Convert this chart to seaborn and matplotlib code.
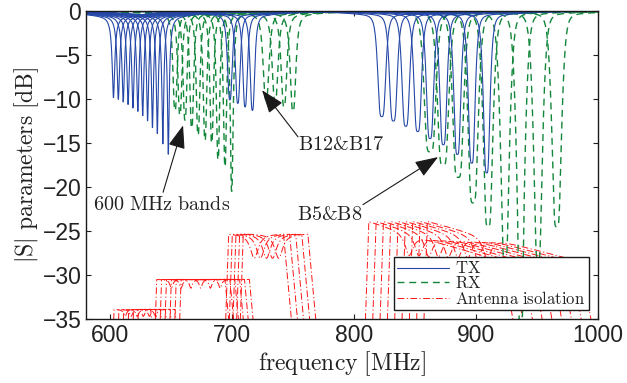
import numpy as np
import pandas as pd
import seaborn as sns
import matplotlib.pyplot as plt
from matplotlib.lines import Line2D

# TX resonances (blue, solid): centre [MHz], depth [dB], band group
tx_center = [602.5, 606.5, 610.5, 614.5, 618.5, 622.5, 626.5, 630.5, 634.5, 638.5, 643.0, 647.5,
             698.0, 704.5, 710.5, 716.5,
             822.6, 832.1, 842.3, 852.1, 862.2, 873.1, 884.6, 896.4, 908.7]
tx_depth = [-9.9, -10.1, -10.4, -10.7, -11.1, -11.5, -12.0, -12.6, -13.4, -14.1, -15.1, -16.6,
            -10.1, -10.5, -10.9, -11.3,
            -12.0, -12.5, -13.1, -13.7, -14.5, -15.2, -16.3, -17.3, -18.4]
tx_group = ["600"] * 12 + ["B12"] * 4 + ["B5"] * 9

# RX resonances (green, dashed)
rx_center = [653.0, 657.0, 661.2, 666.7, 671.9, 677.6, 683.1, 688.3, 694.0, 699.5,
             727.7, 735.1, 742.4, 749.8,
             862.2, 872.9, 885.2, 897.5, 909.8, 923.7, 936.6, 950.8, 966.1]
rx_depth = [-11.3, -11.8, -12.4, -13.3, -14.1, -14.7, -15.0, -16.9, -17.7, -20.5,
            -10.1, -10.3, -10.9, -11.4,
            -16.0, -17.5, -18.9, -21.8, -24.5, -28.5, -38.0, -28.3, -24.5]
rx_group = ["600"] * 10 + ["B12"] * 4 + ["B5"] * 9

# antenna isolation curves (red, dash-dot): pass band, level at both ends, notch
iso_lo = [603, 607, 611, 615, 619, 623,
          638, 642, 646, 650, 654, 658,
          697, 700, 703, 706, 709,
          812, 818, 824, 830, 836, 842, 848, 854, 860]
iso_hi = [633, 637, 641, 645, 649, 653,
          694, 698, 702, 706, 710, 714,
          742, 747, 752, 757, 762,
          922, 930, 938, 946, 954, 962, 970, 978, 986]
iso_level_lo = [-33.9] * 6 + [-30.5] * 6 + [-25.3] * 5 + [-23.9] * 9
iso_level_hi = [-33.9] * 6 + [-30.5] * 6 + [-25.3] * 5 + [-28.5] * 9
iso_notch = [612, 617, 622, 627, 632, 637,
             650, 658, 666, 674, 682, 690,
             718, 723, 728, 733, 738,
             845, 853, 861, 869, 877, 885, 893, 901, 909]
iso_notch_depth = [0.8] * 6 + [1.0] * 6 + [2.8] * 5 + [2.5] * 9

# resonance shape per band group: (width MHz, order, wing loss dB)
tx_shape = {"600": (2.2, 1.0, 0.6), "B12": (3.2, 1.5, 0.5), "B5": (5.0, 2.0, 0.5)}
rx_shape = {"600": (3.0, 1.5, 0.4), "B12": (4.0, 1.5, 0.4), "B5": (7.5, 2.5, 0.4)}

freq = np.linspace(580, 1000, 2101)


def resonance(f0, depth, w, n, wing):
    x = np.abs((freq - f0) / w) ** (2 * n)
    d = 10 ** ((depth + wing) / 10)
    core = 10 * np.log10((d + x) / (1 + x))
    return core - wing / (1 + ((freq - f0) / 30) ** 2)


def isolation(lo, hi, l_lo, l_hi, fn, dn, w_notch, fall):
    t = np.clip((freq - lo) / (hi - lo), 0, 1)
    y = l_lo + (l_hi - l_lo) * t
    y = y - dn / (1 + ((freq - fn) / w_notch) ** 2)
    y = y - 4.0 * np.clip(lo - freq, 0, None) - fall * np.clip(freq - hi, 0, None)
    return y


frames = []
for i in range(len(tx_center)):
    w, n, wing = tx_shape[tx_group[i]]
    frames.append(pd.DataFrame({"kind": "TX", "curve": i, "freq": freq,
                                "dB": resonance(tx_center[i], tx_depth[i], w, n, wing)}))
for i in range(len(rx_center)):
    w, n, wing = rx_shape[rx_group[i]]
    frames.append(pd.DataFrame({"kind": "RX", "curve": i, "freq": freq,
                                "dB": resonance(rx_center[i], rx_depth[i], w, n, wing)}))
for i in range(len(iso_lo)):
    w_notch = 1.5 if i < 12 else 4.0
    fall = 1.5 if i < 17 else 0.8
    frames.append(pd.DataFrame({"kind": "ISO", "curve": i, "freq": freq,
                                "dB": isolation(iso_lo[i], iso_hi[i], iso_level_lo[i], iso_level_hi[i],
                                                iso_notch[i], iso_notch_depth[i], w_notch, fall)}))
df = pd.concat(frames, ignore_index=True)

sns.set_theme(style="ticks")
plt.rcParams["font.family"] = ["Liberation Sans", "DejaVu Sans"]
plt.rcParams["mathtext.fontset"] = "cm"

blue = "#2447a8"
green = "#12873a"
red = "#ff1414"
txtc = "#222222"

fig = plt.figure(figsize=(6.27, 3.83), dpi=100)
ax = fig.add_axes([0.1372, 0.1671, 0.8166, 0.8042])

sns.lineplot(data=df[df.kind == "ISO"], x="freq", y="dB", units="curve", estimator=None,
             color=red, lw=0.7, dashes=(7, 2.5, 1.2, 2.5), ax=ax)
sns.lineplot(data=df[df.kind == "RX"], x="freq", y="dB", units="curve", estimator=None,
             color=green, lw=1.0, dashes=(5, 3.5), ax=ax)
sns.lineplot(data=df[df.kind == "TX"], x="freq", y="dB", units="curve", estimator=None,
             color=blue, lw=0.8, ax=ax)

ax.set_xlim(580, 1000)
ax.set_ylim(-35, 0)
ax.set_xticks([600, 700, 800, 900, 1000])
ax.set_yticks([0, -5, -10, -15, -20, -25, -30, -35])
ax.tick_params(direction="in", length=3.5, width=0.8, top=True, right=True,
               labelsize=16.5, colors=txtc, pad=3.4)
for s in ax.spines.values():
    s.set_linewidth(1.0)
    s.set_color("k")

ax.set_xlabel(r"$\mathrm{frequency\ [MHz]}$", fontsize=17, color=txtc, labelpad=2)
ax.set_ylabel(r"$|\mathrm{S}|\ \mathrm{parameters\ [dB]}$", fontsize=17, color=txtc, labelpad=1)

arrow = dict(arrowstyle="-|>,head_length=0.6,head_width=0.22", color="k", lw=0.8,
             mutation_scale=24, shrinkA=0, shrinkB=0)
ax.annotate("", xy=(659.6, -13.0), xytext=(643.2, -20.6), arrowprops=arrow)
ax.annotate("", xy=(724.4, -9.0), xytext=(753.9, -14.3), arrowprops=arrow)
ax.annotate("", xy=(868.8, -16.6), xytext=(807.2, -22.0), arrowprops=arrow)
ax.text(585.7, -22.0, r"$\mathrm{600\ MHz\ bands}$", fontsize=14.5, color=txtc, ha="left", va="center")
ax.text(753.9, -15.2, r"$\mathrm{B12&B17}$", fontsize=14.5, color=txtc, ha="left", va="center")
ax.text(753.1, -23.1, r"$\mathrm{B5&B8}$", fontsize=14.5, color=txtc, ha="left", va="center")

handles = [Line2D([], [], color=blue, lw=0.8),
           Line2D([], [], color=green, lw=1.0, dashes=(5, 3.5)),
           Line2D([], [], color=red, lw=0.7, dashes=(7, 2.5, 1.2, 2.5))]
labels = [r"$\mathrm{TX}$", r"$\mathrm{RX}$", r"$\mathrm{Antenna\ isolation}$"]
leg = ax.legend(handles, labels, loc="lower right", bbox_to_anchor=(0.982, 0.029),
                fontsize=12, frameon=True, fancybox=False, framealpha=1, edgecolor="k",
                labelspacing=-0.08, handlelength=3.1, handletextpad=0.4, borderpad=0.2,
                borderaxespad=0)
leg.get_frame().set_linewidth(1.0)
for t in leg.get_texts():
    t.set_color(txtc)

fig.savefig("out.png", dpi=100)
